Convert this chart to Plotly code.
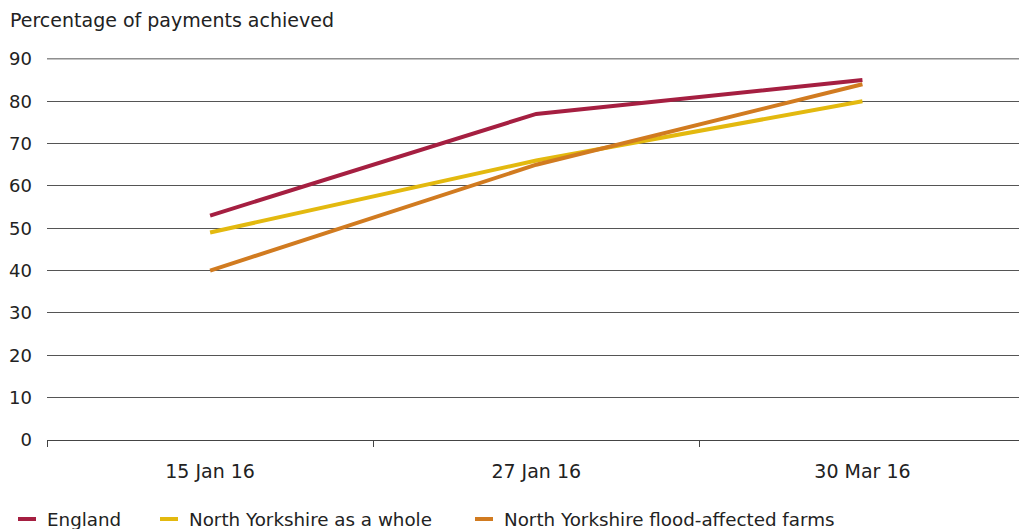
import plotly.graph_objects as go

# Payment progress data
dates = ["15 Jan 16", "27 Jan 16", "30 Mar 16"]
england = [53, 77, 85]
ny_whole = [49, 66, 80]
ny_flood = [40, 65, 84]

series_names = ["England", "North Yorkshire as a whole", "North Yorkshire flood-affected farms"]
series_colors = ["#a51f41", "#e3b90f", "#d17b20"]
y_ticks = [0, 10, 20, 30, 40, 50, 60, 70, 80, 90]

FONT = "DejaVu Sans, Liberation Sans, sans-serif"
TXT = "#222222"
GRID = "#555555"

TOP, BOTTOM, LEFT, PW = 58, 440, 47, 972
PH = BOTTOM - TOP


def px_y(py):
    return (BOTTOM - py) / PH


def px_x(px):
    return (px - LEFT) / PW


fig = go.Figure()
for name, vals, col in zip(series_names, [england, ny_whole, ny_flood], series_colors):
    fig.add_trace(go.Scatter(
        x=dates, y=vals, name=name, mode="lines",
        line=dict(color=col, width=4),
        showlegend=False,
    ))

# Top gridline sits on the plot edge, so draw it explicitly
fig.add_hline(y=y_ticks[-1], line=dict(color=GRID, width=1), layer="below")

# Legend drawn as short line keys with labels underneath the axis
legend_x = [18, 160, 475]
for name, col, lx in zip(series_names, series_colors, legend_x):
    fig.add_shape(type="line", xref="paper", yref="paper",
                  x0=px_x(lx), x1=px_x(lx + 18),
                  y0=px_y(519), y1=px_y(519),
                  line=dict(color=col, width=4))
    fig.add_annotation(text=name, xref="paper", yref="paper",
                       x=px_x(lx + 27), y=px_y(519),
                       xanchor="left", yanchor="middle", showarrow=False,
                       font=dict(family=FONT, size=18.3, color=TXT))

fig.add_annotation(text="Percentage of payments achieved", xref="paper", yref="paper",
                   x=px_x(8), y=px_y(20), xanchor="left", yanchor="middle",
                   showarrow=False, font=dict(family=FONT, size=19, color=TXT))

fig.update_layout(
    width=1019, height=529,
    margin=dict(l=LEFT, r=0, t=TOP, b=529 - BOTTOM),
    paper_bgcolor="white", plot_bgcolor="white",
    font=dict(family=FONT, size=18, color=TXT),
    xaxis=dict(
        type="category", range=[-0.5, 2.48],
        showgrid=False, showline=True, linecolor="#444444", linewidth=1,
        ticks="outside", tickson="boundaries", ticklen=6, tickcolor="#444444",
        ticklabelstandoff=14, zeroline=False,
        tickfont=dict(size=19),
    ),
    yaxis=dict(
        range=[0, 90.2], tickvals=y_ticks, showgrid=True, gridcolor=GRID,
        gridwidth=1, zeroline=False, showline=False, ticks="",
        ticklabelstandoff=14, tickfont=dict(size=18),
    ),
)

fig.write_html("out.html")
